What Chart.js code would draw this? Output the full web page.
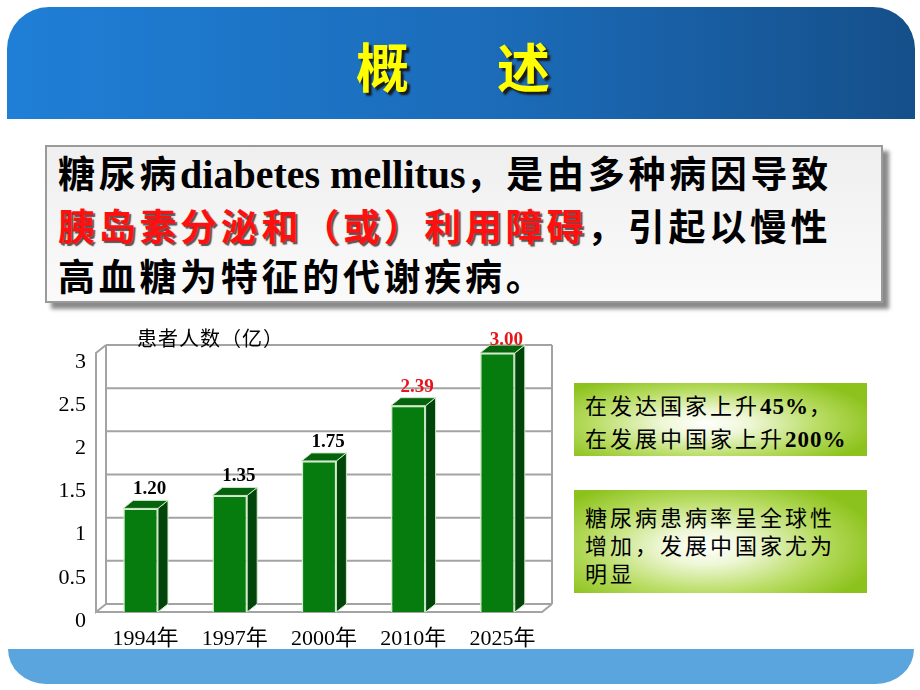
<!DOCTYPE html>
<html>
<head>
<meta charset="utf-8">
<script src="https://cdn.jsdelivr.net/npm/chart.js@4/dist/chart.umd.min.js"></script>
<style>
    body { margin: 0; background: #fff; }
    #slide { position: relative; width: 920px; height: 690px; overflow: hidden; background: #fff; }
    #header {
        position: absolute; left: 7px; top: 7px; width: 908px; height: 112px;
        border-radius: 42px 42px 0 0;
        background: linear-gradient(to right, #1f7fd6, #1b6bb8 55%, #154f8a);
    }
    #titolo {
        position: absolute; left: 356px; top: 30px; width: 230px;
        font: bold 53px "Noto Sans CJK SC", sans-serif; color: #ffff00; letter-spacing: -6px;
        text-shadow: 3px 3px 2px #1a1a1a; line-height: 70px; white-space: nowrap;
    }
    #box {
        position: absolute; left: 45px; top: 145px; width: 838px; height: 158px;
        border: 2px solid #9a9a9a; background: linear-gradient(to bottom, #efefef, #fafafa);
        box-shadow: 6px 6px 4px #8a8a8a;
        font: bold 37px "Noto Sans CJK SC", sans-serif; color: #000; letter-spacing: 3.7px;
        line-height: 50px; padding: 0 0 0 11px; box-sizing: border-box;
        white-space: nowrap;
    }
    #box .en { font-family: "Liberation Serif", serif; font-weight: bold; font-size: 40px; letter-spacing: 0; }
    #box .rosso { color: #ff1010; text-shadow: 2px 2px 1px #555; }
    .verde {
        position: absolute; left: 574px; width: 293px;
        background: radial-gradient(ellipse 60% 70% at 45% 55%, #ffffff 0%, #eef7d6 25%, #b8dc62 65%, #8cc21c 100%);
        font: 22px "Noto Sans CJK SC", sans-serif; color: #000; letter-spacing: 3px;
        line-height: 30px; box-sizing: border-box; padding-left: 11px; white-space: nowrap;
    }
    .verde b { font-family: "Liberation Serif", serif; font-size: 23px; letter-spacing: 1px; }
    #verde1 { top: 383px; height: 73px; padding-top: 6px; }
    #verde2 { top: 490px; height: 103px; padding-top: 12px; line-height: 28px; }
    #footer {
        position: absolute; left: 8px; top: 649px; width: 906px; height: 35px;
        background: #5aa5dd; border-radius: 0 0 38px 38px / 0 0 35px 35px;
    }
    #wrapper { position: absolute; left: 40px; top: 320px; width: 530px; height: 340px; }
</style>
</head>
<body>
<div id="slide">
    <div id="header"></div>
    <div id="titolo">概　　述</div>
    <div id="box">糖尿病<span class="en">diabetes mellitus</span>，是由多种病因导致<br><span class="rosso">胰岛素分泌和（或）利用障碍</span>，引起以慢性<br>高血糖为特征的代谢疾病。</div>
    <div class="verde" id="verde1">在发达国家上升<b>45%</b>，<br>在发展中国家上升<b>200%</b></div>
    <div class="verde" id="verde2">糖尿病患病率呈全球性<br>增加，发展中国家尤为<br>明显</div>
    <div id="footer"></div>
    <div id="wrapper"><canvas id="grafico"></canvas></div>
</div>

<script>
"use strict"

// dati del grafico
const anni = ["1994年", "1997年", "2000年", "2010年", "2025年"];
const pazienti = [1.20, 1.35, 1.75, 2.39, 3.00];
const coloriEtichette = ["#000000", "#000000", "#000000", "#e8141b", "#e8141b"];
const titoloAsse = "患者人数（亿）";

// profondità dell'effetto 3d
const DX = 10;
const DY = 8;

let canvas = document.getElementById("grafico");

// disegna pareti, fianchi delle barre e valori
let plugin3d = {
    id: "plugin3d",
    beforeDatasetsDraw(chart) {
        let ctx = chart.ctx;
        let a = chart.chartArea;
        let y = chart.scales.y;
        ctx.save();
        ctx.strokeStyle = "#a3a3a3";
        ctx.lineWidth = 2;
        // linee della parete di fondo
        for (const t of y.ticks) {
            let py = y.getPixelForValue(t.value) - DY;
            ctx.beginPath();
            ctx.moveTo(a.left + DX, py);
            ctx.lineTo(a.right + DX, py);
            ctx.stroke();
        }
        ctx.beginPath();
        ctx.moveTo(a.left + DX, a.top - DY);
        ctx.lineTo(a.left + DX, a.bottom - DY);
        ctx.moveTo(a.right + DX, a.top - DY);
        ctx.lineTo(a.right + DX, a.bottom - DY);
        // parete sinistra
        ctx.moveTo(a.left + DX, a.top - DY);
        ctx.lineTo(a.left, a.top);
        ctx.lineTo(a.left, a.bottom);
        ctx.lineTo(a.left + DX, a.bottom - DY);
        // pavimento
        ctx.moveTo(a.left, a.bottom);
        ctx.lineTo(a.right, a.bottom);
        ctx.lineTo(a.right + DX, a.bottom - DY);
        ctx.stroke();
        ctx.restore();
    },
    afterDatasetsDraw(chart) {
        let ctx = chart.ctx;
        let meta = chart.getDatasetMeta(0);
        ctx.save();
        ctx.lineWidth = 1;
        ctx.strokeStyle = "#cfe9c8";
        meta.data.forEach(function (bar, i) {
            let p = bar.getProps(["x", "y", "base", "width"], true);
            let l = p.x - p.width / 2;
            let r = p.x + p.width / 2;
            // fianco
            ctx.fillStyle = "#02450a";
            ctx.beginPath();
            ctx.moveTo(r, p.y);
            ctx.lineTo(r + DX, p.y - DY);
            ctx.lineTo(r + DX, p.base - DY);
            ctx.lineTo(r, p.base);
            ctx.closePath();
            ctx.fill();
            ctx.stroke();
            // tetto
            ctx.fillStyle = "#06630d";
            ctx.beginPath();
            ctx.moveTo(l, p.y);
            ctx.lineTo(l + DX, p.y - DY);
            ctx.lineTo(r + DX, p.y - DY);
            ctx.lineTo(r, p.y);
            ctx.closePath();
            ctx.fill();
            ctx.stroke();
            // valore
            ctx.fillStyle = coloriEtichette[i];
            ctx.font = "bold 19px 'Liberation Serif', serif";
            ctx.textAlign = "center";
            ctx.textBaseline = "middle";
            ctx.fillText(pazienti[i].toFixed(2), p.x + 9, Math.max(p.y - 19, 20));
        });
        // titolo asse y
        ctx.fillStyle = "#000";
        ctx.font = "20px 'Noto Sans CJK SC', sans-serif";
        ctx.letterSpacing = "1px";
        ctx.textAlign = "left";
        ctx.textBaseline = "middle";
        ctx.fillText(titoloAsse, chart.chartArea.left + 41, 18);
        ctx.restore();
    }
};

let chart = new Chart(canvas, {
    type: "bar",
    data: {
        labels: anni,
        datasets: [{
            data: pazienti,
            backgroundColor: "#067b0e",
            borderColor: "#d4eecd",
            borderWidth: 1.5,
            categoryPercentage: 1,
            barPercentage: 0.39
        }]
    },
    options: {
        responsive: true,
        maintainAspectRatio: false,
        animation: false,
        layout: { padding: { top: 33, right: 28, bottom: 8, left: 0 } },
        plugins: {
            legend: { display: false },
            tooltip: { enabled: false }
        },
        scales: {
            x: {
                grid: { display: false },
                border: { display: false },
                ticks: {
                    color: "#000",
                    font: { family: "'Liberation Serif', 'Noto Sans CJK SC', serif", size: 22 },
                    padding: 6,
                    labelOffset: 5
                },
                afterFit: function (scale) { scale.height = 40; }
            },
            y: {
                min: 0,
                max: 3,
                grid: { display: false },
                border: { display: false },
                ticks: {
                    stepSize: 0.5,
                    color: "#000",
                    font: { family: "'Liberation Serif', serif", size: 22 },
                    padding: 2,
                    labelOffset: 9,
                    callback: function (v) { return String(v); }
                },
                afterFit: function (scale) { scale.width = 56; }
            }
        }
    },
    plugins: [plugin3d]
});
</script>
</body>
</html>
